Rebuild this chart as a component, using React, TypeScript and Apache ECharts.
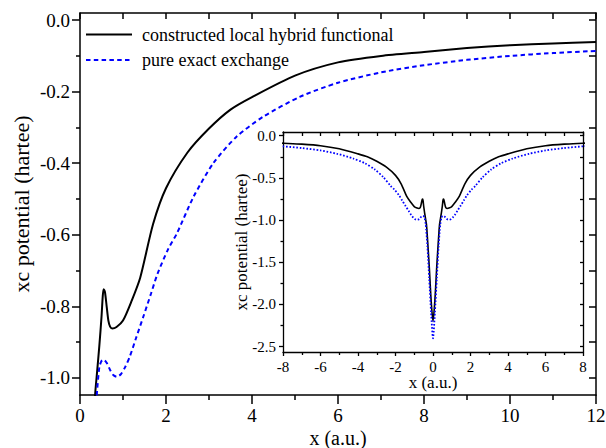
import React, { useEffect, useRef } from "react";
import * as echarts from "echarts";

const hybridX = [0, 0.1, 0.2, 0.3, 0.35, 0.4, 0.45, 0.5, 0.53, 0.55, 0.58, 0.62, 0.66, 0.7, 0.75, 0.85, 1.0, 1.2, 1.4, 1.7, 2.0, 2.5, 3.0, 3.5, 4.0, 5.0, 6.0, 7.0, 8.0, 9.0, 10.0, 11.0, 12.0];
const hybridY = [-2.2, -1.95, -1.55, -1.2, -1.05, -0.98, -0.91, -0.83, -0.77, -0.752, -0.76, -0.8, -0.84, -0.857, -0.862, -0.858, -0.84, -0.785, -0.72, -0.57, -0.47, -0.37, -0.303, -0.25, -0.215, -0.155, -0.118, -0.1, -0.089, -0.078, -0.07, -0.065, -0.061];

const exactX = [0, 0.1, 0.2, 0.3, 0.36, 0.39, 0.45, 0.5, 0.55, 0.62, 0.7, 0.78, 0.86, 0.95, 1.05, 1.16, 1.3, 1.47, 1.65, 1.8, 2.05, 2.25, 2.64, 3.1, 3.64, 4.26, 5.12, 6.0, 7.0, 8.0, 9.0, 10.0, 11.0, 12.0];
const exactY = [-2.4, -2.1, -1.7, -1.3, -1.12, -1.048, -0.97, -0.953, -0.949, -0.958, -0.978, -0.993, -0.997, -0.99, -0.97, -0.94, -0.89, -0.83, -0.765, -0.71, -0.64, -0.597, -0.494, -0.4, -0.326, -0.27, -0.214, -0.175, -0.146, -0.126, -0.111, -0.1, -0.092, -0.086];

const seriesNames = ["constructed local hybrid functional", "pure exact exchange"];
const axisNameX = "x (a.u.)";
const axisNameY = "xc potential (hartee)";

const mainYLabels = [0, -0.2, -0.4, -0.6, -0.8, -1.0];
const mainYMinor = [-0.1, -0.3, -0.5, -0.7, -0.9];
const mainYAll = [0, -0.1, -0.2, -0.3, -0.4, -0.5, -0.6, -0.7, -0.8, -0.9, -1.0];
const insetYLabels = [0, -0.5, -1.0, -1.5, -2.0, -2.5];
const insetYMinor = [-0.25, -0.75, -1.25, -1.75, -2.25];
const insetYAll = [0, -0.25, -0.5, -0.75, -1.0, -1.25, -1.5, -1.75, -2.0, -2.25, -2.5];

const FONT = "'Liberation Serif', 'Times New Roman', serif";

function zip(xs: number[], ys: number[]) {
  return xs.map((x, i) => [x, ys[i]]);
}
function mirror(xs: number[], ys: number[]) {
  const left = xs.map((x, i) => [-x, ys[i]]).filter((p) => p[0] !== 0).reverse();
  return left.concat(zip(xs, ys));
}
const fmt = (v: number) => (Math.abs(v) < 1e-9 ? "0.0" : v.toFixed(1));

export default function App() {
  const ref = useRef<HTMLDivElement>(null);
  useEffect(() => {
    if (!ref.current) return;
    const chart = echarts.init(ref.current, undefined, { renderer: "svg" });
    const lineAx = (w: number) => ({ show: true, onZero: false, lineStyle: { color: "#000", width: w } });
    const noLine = () => ({ show: false, onZero: false });
    const hidden = () => ({ axisLine: noLine(), axisTick: { show: false }, axisLabel: { show: false }, splitLine: { show: false } });
    const tickStyle = (w: number) => ({ color: "#000", width: w });
    const mainMin = -1.048, mainMax = 0.02;
    const inMin = -2.563, inMax = 0.044;
    const IW = 1.3;
    chart.setOption({
      animation: false,
      backgroundColor: "#fff",
      textStyle: { fontFamily: FONT, color: "#000" },
      grid: [
        { left: 80, top: 13, right: 10, bottom: 53, outerBoundsMode: "none", containLabel: false },
        { left: 283, top: 132, right: 23, bottom: 96, containLabel: false },
      ],
      graphic: [
        { type: "line", shape: { x1: 86, y1: 34.5, x2: 132, y2: 34.5 }, style: { stroke: "#000", lineWidth: 2 } },
        { type: "line", shape: { x1: 86, y1: 60, x2: 132, y2: 60 }, style: { stroke: "#0000ff", lineWidth: 2, lineDash: [4.5, 3.3] } },
        { type: "text", x: 142, y: 34.5, style: { text: seriesNames[0], font: `18px ${FONT}`, fill: "#000", verticalAlign: "middle" } },
        { type: "text", x: 142, y: 60, style: { text: seriesNames[1], font: `18px ${FONT}`, fill: "#000", verticalAlign: "middle" } },
      ],
      xAxis: [
        {
          gridIndex: 0, type: "value", position: "bottom", min: 0, max: 12, interval: 2,
          axisLine: lineAx(1.5),
          axisTick: { show: true, inside: false, length: 9, lineStyle: tickStyle(1.5) },
          minorTick: { show: true, splitNumber: 2, length: 5, lineStyle: tickStyle(1.5) },
          axisLabel: { fontFamily: FONT, fontSize: 19, color: "#000", margin: 11 },
          splitLine: { show: false },
        },
        {
          gridIndex: 0, type: "value", position: "top", min: 0, max: 12, interval: 1,
          axisLine: lineAx(1.5),
          axisTick: { show: true, inside: true, length: 6, lineStyle: tickStyle(1.5) },
          axisLabel: { show: false }, splitLine: { show: false },
        },
        {
          gridIndex: 0, type: "value", position: "bottom", min: 0, max: 12, ...hidden(),
          name: axisNameX, nameLocation: "middle", nameGap: 33,
          nameTextStyle: { fontFamily: FONT, fontSize: 20, color: "#000" },
        },
        {
          gridIndex: 1, type: "value", position: "bottom", min: -8, max: 8, interval: 2,
          axisLine: lineAx(IW),
          axisTick: { show: true, inside: false, length: 4, lineStyle: tickStyle(IW) },
          minorTick: { show: true, splitNumber: 2, length: 3, lineStyle: tickStyle(IW) },
          axisLabel: { fontFamily: FONT, fontSize: 15, color: "#000", margin: 7 },
          splitLine: { show: false },
        },
        {
          gridIndex: 1, type: "value", position: "top", min: -8, max: 8, interval: 1,
          axisLine: lineAx(IW),
          axisTick: { show: true, inside: true, length: 4, lineStyle: tickStyle(IW) },
          axisLabel: { show: false }, splitLine: { show: false },
        },
        {
          gridIndex: 1, type: "value", position: "bottom", min: -8, max: 8, ...hidden(),
          name: axisNameX, nameLocation: "middle", nameGap: 22,
          nameTextStyle: { fontFamily: FONT, fontSize: 17, color: "#000" },
        },
      ],
      yAxis: [
        {
          gridIndex: 0, type: "value", position: "left", min: mainMin, max: mainMax,
          axisLine: lineAx(1.5),
          axisTick: { show: true, inside: false, length: 8, customValues: mainYLabels, lineStyle: tickStyle(1.5) },
          axisLabel: { customValues: mainYLabels, formatter: fmt, fontFamily: FONT, fontSize: 19, color: "#000", margin: 10 },
          splitLine: { show: false },
        },
        {
          gridIndex: 0, type: "value", position: "left", min: mainMin, max: mainMax,
          axisLine: noLine(),
          axisTick: { show: true, inside: false, length: 4, customValues: mainYMinor, lineStyle: tickStyle(1.5) },
          axisLabel: { show: false }, splitLine: { show: false },
          name: axisNameY, nameLocation: "middle", nameGap: 48,
          nameTextStyle: { fontFamily: FONT, fontSize: 22, color: "#000" },
        },
        {
          gridIndex: 0, type: "value", position: "right", min: mainMin, max: mainMax,
          axisLine: lineAx(1.5),
          axisTick: { show: true, inside: true, length: 7, customValues: mainYAll, lineStyle: tickStyle(1.5) },
          axisLabel: { show: false }, splitLine: { show: false },
        },
        {
          gridIndex: 1, type: "value", position: "left", min: inMin, max: inMax,
          axisLine: lineAx(IW),
          axisTick: { show: true, inside: false, length: 4, customValues: insetYLabels, lineStyle: tickStyle(IW) },
          axisLabel: { customValues: insetYLabels, formatter: fmt, fontFamily: FONT, fontSize: 15, color: "#000", margin: 7 },
          splitLine: { show: false },
        },
        {
          gridIndex: 1, type: "value", position: "left", min: inMin, max: inMax,
          axisLine: noLine(),
          axisTick: { show: true, inside: false, length: 2.5, customValues: insetYMinor, lineStyle: tickStyle(IW) },
          axisLabel: { show: false }, splitLine: { show: false },
          name: axisNameY, nameLocation: "middle", nameGap: 33,
          nameTextStyle: { fontFamily: FONT, fontSize: 17, color: "#000" },
        },
        {
          gridIndex: 1, type: "value", position: "right", min: inMin, max: inMax,
          axisLine: lineAx(IW),
          axisTick: { show: true, inside: true, length: 3, customValues: insetYAll, lineStyle: tickStyle(IW) },
          axisLabel: { show: false }, splitLine: { show: false },
        },
      ],
      series: [
        {
          name: seriesNames[0], type: "line", xAxisIndex: 0, yAxisIndex: 0,
          data: zip(hybridX, hybridY), symbol: "none", smooth: 0.25,
          lineStyle: { color: "#000", width: 2 }, itemStyle: { color: "#000" },
        },
        {
          name: seriesNames[1], type: "line", xAxisIndex: 0, yAxisIndex: 0,
          data: zip(exactX, exactY), symbol: "none", smooth: 0.25,
          lineStyle: { color: "#0000ff", width: 2, type: [4.5, 3.3] }, itemStyle: { color: "#0000ff" },
        },
        {
          name: "inset-hybrid", type: "line", xAxisIndex: 3, yAxisIndex: 3,
          data: mirror(hybridX, hybridY), symbol: "none", smooth: 0.25,
          lineStyle: { color: "#000", width: 1.6 }, itemStyle: { color: "#000" },
        },
        {
          name: "inset-exact", type: "line", xAxisIndex: 3, yAxisIndex: 3,
          data: mirror(exactX, exactY), symbol: "none", smooth: 0.25,
          lineStyle: { color: "#0000ff", width: 1.8, type: [1.6, 1.8] }, itemStyle: { color: "#0000ff" },
        },
      ],
    });
    return () => chart.dispose();
  }, []);
  return <div ref={ref} style={{ position: "fixed", left: 0, top: 0, width: 606, height: 448 }} />;
}
